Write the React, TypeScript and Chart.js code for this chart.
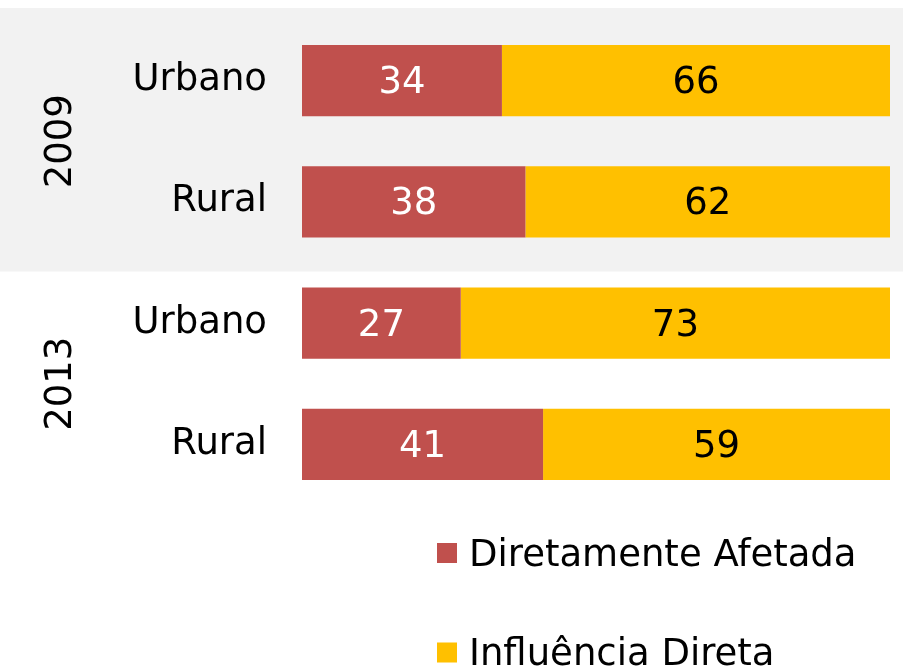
import React, { useEffect, useRef } from 'react';
import { Chart, registerables } from 'chart.js';

Chart.register(...registerables);

// ---- data ----
const categories = ['Urbano', 'Rural', 'Urbano', 'Rural'];
const years = ['2009', '2013'];
const seriesNames = ['Diretamente Afetada', 'Influência Direta'];
const diretamenteAfetada = [34, 38, 27, 41];
const influenciaDireta = [66, 62, 73, 59];
const seriesColors = ['#C0504D', '#FFC000'];
const labelColors = ['#FFFFFF', '#000000'];

const FONT = "'DejaVu Sans', Verdana, sans-serif";
const FONT_SIZE = 37;
const YEAR_AXIS_W = 108;
const PLOT_LEFT = 302;

const bandPlugin = {
  id: 'band',
  beforeDraw(chart: any) {
    const { ctx, chartArea } = chart;
    const y = chart.scales.y;
    const top = chartArea.top - 12;
    const bottom = (y.getPixelForValue(1) + y.getPixelForValue(2)) / 2 + 9;
    ctx.save();
    ctx.fillStyle = '#F2F2F2';
    ctx.fillRect(0, top, chart.width, bottom - top);
    ctx.restore();
  },
};

const valueLabelPlugin = {
  id: 'valueLabels',
  afterDatasetsDraw(chart: any) {
    const { ctx } = chart;
    ctx.save();
    ctx.font = `${FONT_SIZE}px ${FONT}`;
    ctx.textAlign = 'center';
    ctx.textBaseline = 'middle';
    chart.data.datasets.forEach((ds: any, i: number) => {
      const meta = chart.getDatasetMeta(i);
      ctx.fillStyle = labelColors[i];
      meta.data.forEach((el: any, j: number) => {
        const { x, y, base } = el.getProps(['x', 'y', 'base'], true);
        ctx.fillText(String(ds.data[j]), (x + base) / 2, y + 3);
      });
    });
    ctx.restore();
  },
};

const customLegendPlugin = {
  id: 'customLegend',
  afterDraw(chart: any) {
    const { ctx, chartArea } = chart;
    const x0 = chartArea.left + 135;
    const firstCenter = chartArea.bottom + 48;
    const step = 99.5;
    const box = 20;
    ctx.save();
    ctx.font = `${FONT_SIZE}px ${FONT}`;
    ctx.textAlign = 'left';
    ctx.textBaseline = 'alphabetic';
    chart.data.datasets.forEach((ds: any, i: number) => {
      const cy = firstCenter + i * step;
      ctx.fillStyle = ds.backgroundColor;
      ctx.fillRect(x0, cy - box / 2, box, box);
      ctx.fillStyle = '#000000';
      ctx.fillText(ds.label, x0 + box + 12, cy + 12.8);
    });
    ctx.restore();
  },
};

export default function App() {
  const canvasRef = useRef<HTMLCanvasElement | null>(null);

  useEffect(() => {
    document.body.style.margin = '0';
    const canvas = canvasRef.current;
    if (!canvas) return;
    const chart = new Chart(canvas, {
      type: 'bar',
      data: {
        labels: categories,
        datasets: [
          {
            label: seriesNames[0],
            data: diretamenteAfetada,
            backgroundColor: seriesColors[0],
            barPercentage: 0.587,
            categoryPercentage: 1,
          },
          {
            label: seriesNames[1],
            data: influenciaDireta,
            backgroundColor: seriesColors[1],
            barPercentage: 0.587,
            categoryPercentage: 1,
          },
        ],
      },
      options: {
        indexAxis: 'y',
        animation: false,
        responsive: false,
        maintainAspectRatio: false,
        layout: { padding: { top: 20, right: 13, bottom: 163, left: 0 } },
        plugins: {
          legend: { display: false },
          tooltip: { enabled: false },
        },
        scales: {
          x: {
            stacked: true,
            min: 0,
            max: 100,
            display: false,
          },
          y: {
            stacked: true,
            position: 'left',
            weight: 0,
            grid: { display: false, drawTicks: false },
            border: { display: false },
            ticks: {
              color: '#000000',
              font: { family: FONT, size: FONT_SIZE },
              padding: 35,
            },
            afterFit: (s: any) => {
              s.width = PLOT_LEFT - YEAR_AXIS_W;
              s.paddingTop = 0;
              s.paddingBottom = 0;
            },
          },
          year: {
            type: 'category',
            axis: 'y',
            labels: years,
            position: 'left',
            weight: 1,
            offset: true,
            grid: { display: false, drawTicks: false },
            border: { display: false },
            ticks: {
              color: '#000000',
              font: { family: FONT, size: FONT_SIZE },
              minRotation: 90,
              maxRotation: 90,
              crossAlign: 'center',
              padding: 0,
              autoSkip: false,
            },
            afterFit: (s: any) => {
              s.width = YEAR_AXIS_W;
              s.paddingTop = 0;
              s.paddingBottom = 0;
            },
          },
        } as any,
      },
      plugins: [bandPlugin, valueLabelPlugin, customLegendPlugin],
    });
    return () => chart.destroy();
  }, []);

  return (
    <div style={{ width: 903, height: 668 }}>
      <canvas ref={canvasRef} width={903} height={668} />
    </div>
  );
}
